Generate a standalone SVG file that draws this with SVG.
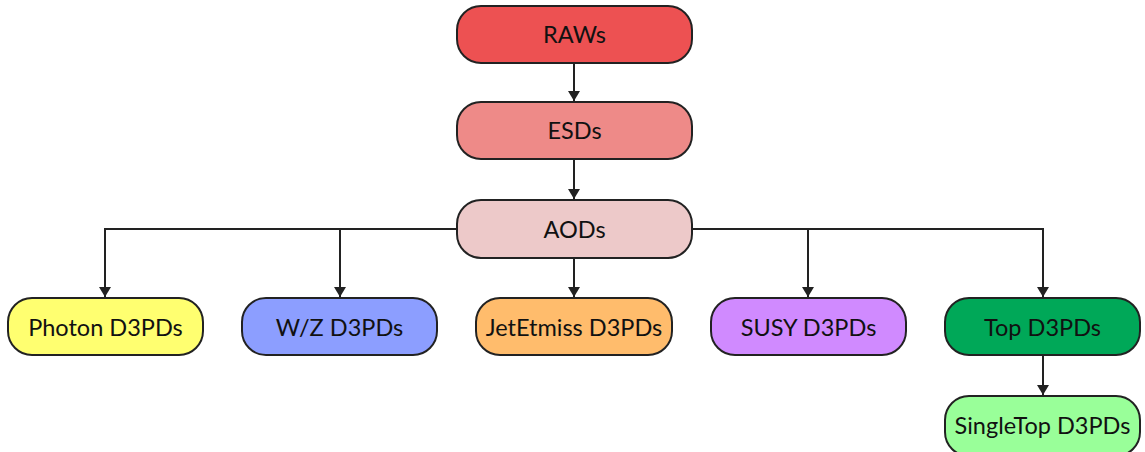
<svg xmlns="http://www.w3.org/2000/svg" width="1145" height="452" viewBox="0 0 1145 452">
<style>
.n{stroke:#222;stroke-width:2}
.t{font-family:Lato,"Open Sans",sans-serif;font-size:23.5px;fill:#111;text-anchor:middle;dominant-baseline:central}
.c{fill:none;stroke:#222;stroke-width:2}
</style>
<defs>
<marker id="a" viewBox="0 0 10 14" refX="10" refY="7" markerWidth="10" markerHeight="14" markerUnits="userSpaceOnUse" orient="auto">
<path d="M0,1 L10,7 L0,13 Z" fill="#222"/>
</marker>
</defs>
<rect width="1145" height="452" fill="#fff"/>
<g id="connectors">
<path class="c" d="M574,64 V101" marker-end="url(#a)"/>
<path class="c" d="M574,160 V199" marker-end="url(#a)"/>
<path class="c" d="M574,259 V297" marker-end="url(#a)"/>
<path class="c" d="M457,229 H105 V297" marker-end="url(#a)"/>
<path class="c" d="M340,229 V297" marker-end="url(#a)"/>
<path class="c" d="M692,229 H1043 V297" marker-end="url(#a)"/>
<path class="c" d="M808,229 V297" marker-end="url(#a)"/>
<path class="c" d="M1043,356 V395" marker-end="url(#a)"/>
</g>
<g id="raws"><rect class="n" x="457" y="6" width="235" height="57" rx="24" fill="#ED5152"/><text class="t" x="574.5" y="33.5">RAWs</text></g>
<g id="esds"><rect class="n" x="457" y="102" width="235" height="57" rx="24" fill="#EE8A88"/><text class="t" x="574.5" y="130">ESDs</text></g>
<g id="aods"><rect class="n" x="457" y="200" width="235" height="58" rx="24" fill="#EDC9C9"/><text class="t" x="574.5" y="228.5">AODs</text></g>
<g id="photon"><rect class="n" x="8" y="298" width="195" height="57" rx="24" fill="#FFFF70"/><text class="t" x="105.5" y="326.5">Photon D3PDs</text></g>
<g id="wz"><rect class="n" x="242" y="298" width="195" height="57" rx="24" fill="#8C9EFF"/><text class="t" x="339.5" y="326.5">W/Z D3PDs</text></g>
<g id="jetetmiss"><rect class="n" x="476" y="298" width="196" height="57" rx="24" fill="#FFBC6C"/><text class="t" x="574" y="326.5">JetEtmiss D3PDs</text></g>
<g id="susy"><rect class="n" x="711" y="298" width="195" height="57" rx="24" fill="#D08AFF"/><text class="t" x="808.5" y="326.5">SUSY D3PDs</text></g>
<g id="top"><rect class="n" x="945" y="298" width="195" height="57" rx="24" fill="#00A858"/><text class="t" x="1042.5" y="326.5">Top D3PDs</text></g>
<g id="singletop"><rect class="n" x="945" y="396" width="195" height="60" rx="24" fill="#99FF99"/><text class="t" x="1042.5" y="424.5">SingleTop D3PDs</text></g>
</svg>
